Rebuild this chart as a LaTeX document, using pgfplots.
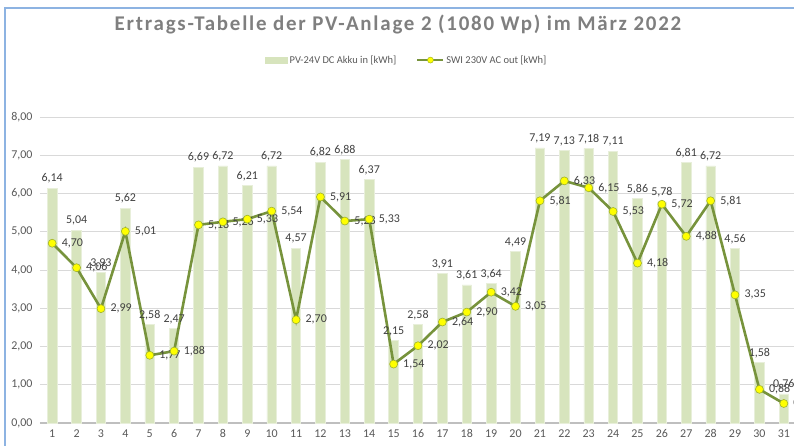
\documentclass[border=0pt]{standalone}
\usepackage{fontspec}
\setmainfont{Carlito}
\newfontfamily\titlefont[LetterSpace=8.5]{Carlito}
\usepackage{pgfplots}
\pgfplotsset{compat=1.18}
\definecolor{barfill}{HTML}{D7E4BD}
\definecolor{baredge}{HTML}{E8EFDA}
\definecolor{olive}{HTML}{77933C}
\definecolor{mk}{HTML}{FFFF00}
\definecolor{titlegray}{HTML}{7F7F7F}
\definecolor{lblgray}{HTML}{404040}
\definecolor{tickgray}{HTML}{595959}
\definecolor{gridgray}{HTML}{D9D9D9}
\definecolor{axisgray}{HTML}{BFBFBF}
\definecolor{frameblue}{HTML}{8DB3E2}

\begin{document}
\begin{tikzpicture}

\begin{axis}[
    at={(40bp,23bp)}, anchor=south west,
    scale only axis, width=756bp, height=306bp,
    xmin=0.5, xmax=31.5, ymin=0, ymax=8,
    xtick={1,...,31}, ytick={0,...,8},
    major tick length=0pt,
    axis x line*=bottom, axis y line*=left,
    x axis line style={draw=axisgray, line width=1.2bp, -},
    y axis line style={draw=none},
    ymajorgrids, grid style={draw=gridgray, line width=0.8bp},
    /pgf/number format/assume math mode=true,
    tick label style={font=\fontsize{12}{14}\selectfont, text=tickgray},
    yticklabel style={xshift=-4bp, /pgf/number format/fixed, /pgf/number format/fixed zerofill,
      /pgf/number format/precision=2, /pgf/number format/use comma},
    xticklabel style={yshift=-3bp},
    legend style={at={(0.485,1.186)}, anchor=center, legend columns=2, draw=none, fill=none,
      font=\fontsize{10.5}{12}\selectfont, text=tickgray,
      /tikz/every even column/.append style={column sep=18bp}},
    clip=false,
]

% PV-Ertrag (Balken)
\addplot[ybar, bar width=9.5bp, fill=barfill, draw=baredge, line width=0.8bp,
    nodes near coords={\pgfmathprintnumber[fixed,fixed zerofill,precision=2,use comma]{\pgfplotspointmeta}},
    every node near coord/.append style={font=\fontsize{12}{14}\selectfont, text=lblgray, anchor=south, yshift=1bp},
    legend image code/.code={\fill[barfill] (0bp,-3bp) rectangle (22bp,3bp);}]
coordinates {
 (1,6.14) (2,5.04) (3,3.93) (4,5.62) (5,2.58) (6,2.47) (7,6.69) (8,6.72)
 (9,6.21) (10,6.72) (11,4.57) (12,6.82) (13,6.88) (14,6.37) (15,2.15) (16,2.58)
 (17,3.91) (18,3.61) (19,3.64) (20,4.49) (21,7.19) (22,7.13) (23,7.18) (24,7.11)
 (25,5.86) (26,5.78) (27,6.81) (28,6.72) (29,4.56) (30,1.58) (31,0.76)
};
\addlegendentry{PV-24V DC Akku in [kWh]}

% Wechselrichter-Ausgang (Linie)
\addplot[color=olive, line width=2.6bp, mark=*, mark size=4bp,
    mark options={fill=mk, draw=olive!70!mk, line width=0.6bp},
    nodes near coords={\pgfmathprintnumber[fixed,fixed zerofill,precision=2,use comma]{\pgfplotspointmeta}},
    every node near coord/.append style={font=\fontsize{12}{14}\selectfont, text=lblgray, anchor=west, xshift=6bp, yshift=0bp},
    legend image code/.code={
      \draw[olive, line width=2bp] (0bp,0bp) -- (26bp,0bp);
      \fill[mk, draw=olive!70!mk, line width=0.5bp] (13bp,0bp) circle (3bp);}]
coordinates {
 (1,4.70) (2,4.06) (3,2.99) (4,5.01) (5,1.77) (6,1.88) (7,5.18) (8,5.26)
 (9,5.33) (10,5.54) (11,2.70) (12,5.91) (13,5.28) (14,5.33) (15,1.54) (16,2.02)
 (17,2.64) (18,2.90) (19,3.42) (20,3.05) (21,5.81) (22,6.33) (23,6.15) (24,5.53)
 (25,4.18) (26,5.72) (27,4.88) (28,5.81) (29,3.35) (30,0.88) (31,0.51)
};
\addlegendentry{SWI 230V AC out [kWh]}

\end{axis}

\draw[frameblue, line width=1.2bp] (5bp,0bp) -- (5bp,438bp) -- (800bp,438bp);
\node[font=\titlefont\bfseries\fontsize{21}{25}\selectfont, text=titlegray] at (398bp,421bp) {Ertrags-Tabelle der PV-Anlage 2 (1080 Wp) im März 2022};

\pgfresetboundingbox
\useasboundingbox (0bp,0bp) rectangle (794bp,446bp);
\end{tikzpicture}
\end{document}
